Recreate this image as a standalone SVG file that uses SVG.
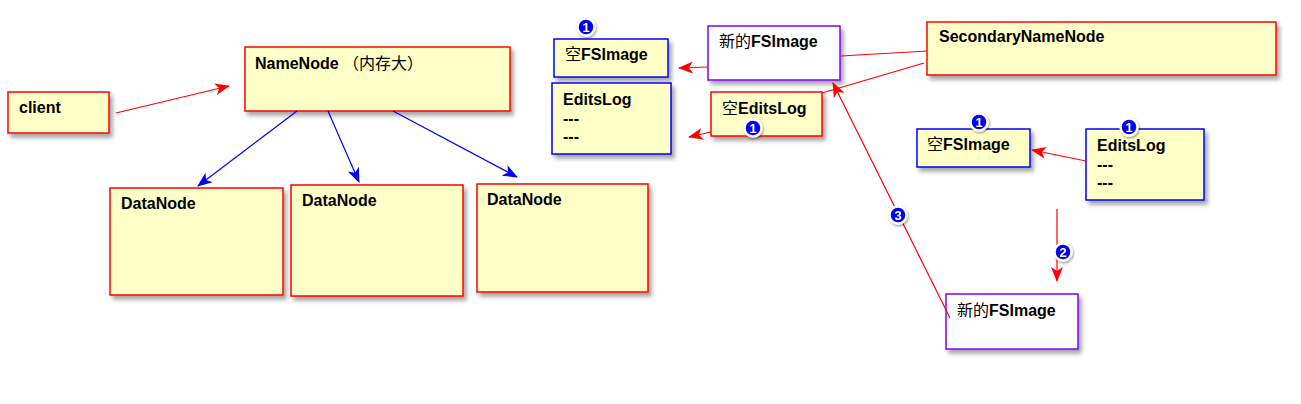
<svg xmlns="http://www.w3.org/2000/svg" width="1301" height="404" viewBox="0 0 1301 404">
<style>
text{font-family:"Liberation Sans","Noto Sans CJK SC",Arial,sans-serif;font-weight:bold;font-size:16px;fill:#000}
.cjk{font-family:"Noto Sans CJK SC",sans-serif;font-weight:normal}
.box{fill:#ffffc8;stroke-width:1.5}
.r{stroke:#ff0000}
.b{stroke:#0000ff}
.p{stroke:#8000ff;fill:#ffffff}
.lr{stroke:#ff0000;stroke-width:1.2;fill:none}
.lb{stroke:#0000ff;stroke-width:1.2;fill:none}
.badge circle{fill:#0000f5;stroke:#ffffff;stroke-width:2.5}
.badge text{fill:#fff;font-size:13px;text-anchor:middle}
</style>
<defs>
<filter id="sh" x="-10%" y="-10%" width="130%" height="140%">
<feDropShadow dx="3" dy="4" stdDeviation="2" flood-color="#000" flood-opacity="0.35"/>
</filter>
<filter id="bs" x="-50%" y="-50%" width="200%" height="200%">
<feDropShadow dx="1" dy="1.5" stdDeviation="1" flood-color="#000" flood-opacity="0.4"/>
</filter>
<marker id="ar" markerUnits="userSpaceOnUse" markerWidth="16" markerHeight="12" refX="14" refY="6" orient="auto">
<path d="M0,0 L15,6 L0,12 L4,6 z" fill="#ff0000"/>
</marker>
<marker id="ab" markerUnits="userSpaceOnUse" markerWidth="16" markerHeight="12" refX="14" refY="6" orient="auto">
<path d="M0,0 L15,6 L0,12 L4,6 z" fill="#0000ff"/>
</marker>
</defs>
<rect width="1301" height="404" fill="#ffffff"/>

<g id="client"><rect class="box r" x="8" y="92" width="101" height="41" filter="url(#sh)"/><text x="19" y="113">client</text></g>
<g id="namenode"><rect class="box r" x="245" y="47" width="265" height="64" filter="url(#sh)"/><text x="255" y="69">NameNode <tspan class="cjk">（内存大）</tspan></text></g>
<g id="datanode1"><rect class="box r" x="110" y="188" width="173" height="107" filter="url(#sh)"/><text x="121" y="209">DataNode</text></g>
<g id="datanode2"><rect class="box r" x="291" y="185" width="172" height="111" filter="url(#sh)"/><text x="302" y="206">DataNode</text></g>
<g id="datanode3"><rect class="box r" x="477" y="184" width="171" height="108" filter="url(#sh)"/><text x="487" y="205">DataNode</text></g>

<g id="fsimage-empty-1"><rect class="box b" x="554" y="39" width="114" height="38" filter="url(#sh)"/><text x="565" y="60"><tspan class="cjk">空</tspan>FSImage</text></g>
<g id="editslog-1"><rect class="box b" x="552" y="83" width="119" height="71" filter="url(#sh)"/><text x="563" y="105">EditsLog</text><text x="563" y="123.5">---</text><text x="563" y="142">---</text></g>
<g id="fsimage-new-1"><rect class="box p" x="708" y="26" width="132" height="54" filter="url(#sh)"/><text x="719" y="47"><tspan class="cjk">新的</tspan>FSImage</text></g>
<g id="editslog-empty"><rect class="box r" x="711" y="92" width="111" height="44" filter="url(#sh)"/><text x="722" y="114"><tspan class="cjk">空</tspan>EditsLog</text></g>
<g id="secondarynamenode"><rect class="box r" x="927" y="22" width="349" height="53" filter="url(#sh)"/><text x="939" y="42">SecondaryNameNode</text></g>
<g id="fsimage-empty-2"><rect class="box b" x="917" y="129" width="113" height="38" filter="url(#sh)"/><text x="927" y="150"><tspan class="cjk">空</tspan>FSImage</text></g>
<g id="editslog-2"><rect class="box b" x="1086" y="129" width="118" height="71" filter="url(#sh)"/><text x="1097" y="151">EditsLog</text><text x="1097" y="169.5">---</text><text x="1097" y="188">---</text></g>
<g id="fsimage-new-2"><rect class="box p" x="946" y="294" width="132" height="55" filter="url(#sh)"/><text x="957" y="316"><tspan class="cjk">新的</tspan>FSImage</text></g>

<g id="connectors">
<line class="lr" x1="116" y1="113" x2="229" y2="86" marker-end="url(#ar)"/>
<line class="lb" x1="297" y1="111" x2="198" y2="186" marker-end="url(#ab)"/>
<line class="lb" x1="328" y1="111" x2="359" y2="182" marker-end="url(#ab)"/>
<line class="lb" x1="393" y1="111" x2="517" y2="177" marker-end="url(#ab)"/>
<line class="lr" x1="708" y1="67" x2="679" y2="68" marker-end="url(#ar)"/>
<line class="lr" x1="711" y1="132" x2="689" y2="137" marker-end="url(#ar)"/>
<line class="lr" x1="927" y1="51" x2="841" y2="56"/>
<line class="lr" x1="924" y1="63" x2="822" y2="93"/>
<line class="lr" x1="950" y1="318" x2="833" y2="83" marker-end="url(#ar)"/>
<line class="lr" x1="1086" y1="161" x2="1032" y2="150" marker-end="url(#ar)"/>
<line class="lr" x1="1057" y1="209" x2="1057" y2="281" marker-end="url(#ar)"/>
</g>

<g id="badges">
<g class="badge" filter="url(#bs)"><circle cx="586" cy="27" r="8.5"/><text x="586" y="31.5">1</text></g>
<g class="badge" filter="url(#bs)"><circle cx="753" cy="128" r="8.5"/><text x="753" y="132.5">1</text></g>
<g class="badge" filter="url(#bs)"><circle cx="979" cy="122" r="8.5"/><text x="979" y="126.5">1</text></g>
<g class="badge" filter="url(#bs)"><circle cx="1129" cy="127" r="8.5"/><text x="1129" y="131.5">1</text></g>
<g class="badge" filter="url(#bs)"><circle cx="1063" cy="252" r="8.5"/><text x="1063" y="256.5">2</text></g>
<g class="badge" filter="url(#bs)"><circle cx="898" cy="215" r="8.5"/><text x="898" y="219.5">3</text></g>
</g>
</svg>
